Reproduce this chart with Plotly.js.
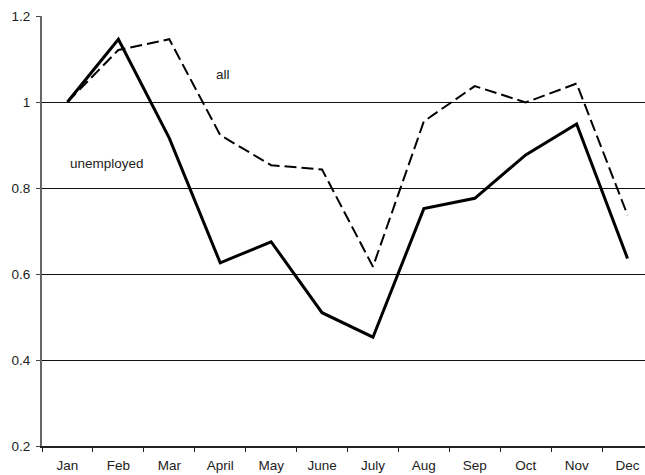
<!DOCTYPE html>
<html>
<head>
<meta charset="utf-8">
<script src="https://cdn.plot.ly/plotly-3.0.1.min.js"></script>
<style>
html,body{margin:0;padding:0;overflow:hidden;background:#fff;width:645px;height:475px;}
#chart{width:660px;height:475px;}
</style>
</head>
<body>
<div id="chart"></div>
<script>
var months = ["Jan","Feb","Mar","April","May","June","July","Aug","Sep","Oct","Nov","Dec"];
var unemployed = [1.0, 1.146, 0.916, 0.626, 0.675, 0.510, 0.453, 0.752, 0.776, 0.877, 0.949, 0.636];
var all = [1.0, 1.121, 1.146, 0.923, 0.853, 0.843, 0.617, 0.955, 1.037, 0.999, 1.043, 0.737];
var yTicks = [0.2, 0.4, 0.6, 0.8, 1.0, 1.2];
var yTickText = ["0.2", "0.4", "0.6", "0.8", "1", "1.2"];

var font = {family: "Liberation Sans, Arial, sans-serif", size: 13.5, color: "#222"};

var traces = [
  {x: months, y: all, type: "scatter", mode: "lines", name: "all",
   line: {color: "#000", width: 2, dash: "12px,5px"}},
  {x: months, y: unemployed, type: "scatter", mode: "lines", name: "unemployed",
   line: {color: "#000", width: 3}}
];

var layout = {
  width: 660, height: 475,
  margin: {l: 42, r: 7, t: 16, b: 29},
  showlegend: false,
  paper_bgcolor: "#fff", plot_bgcolor: "#fff",
  font: font,
  xaxis: {
    type: "category", range: [-0.5, 11.5],
    tickson: "boundaries", ticks: "outside", ticklen: 4, tickcolor: "#222", tickwidth: 1,
    showgrid: false, zeroline: false,
    showline: true, linecolor: "#222", linewidth: 1.5,
    ticklabelstandoff: 6, tickfont: font
  },
  yaxis: {
    range: [0.2, 1.2], tickvals: yTicks, ticktext: yTickText,
    ticks: "outside", ticklen: 4, tickcolor: "#444", tickwidth: 1,
    showgrid: true, gridcolor: "#111", gridwidth: 1,
    zeroline: false, showline: true, linecolor: "#666", linewidth: 2,
    ticklabelstandoff: 3, tickfont: font
  },
  annotations: [
    {x: 3.05, y: 1.065, xref: "x", yref: "y", text: "all", showarrow: false, font: font},
    {x: 0.77, y: 0.858, xref: "x", yref: "y", text: "unemployed", showarrow: false, font: font}
  ]
};

Plotly.newPlot("chart", traces, layout, {displayModeBar: false, staticPlot: true});
</script>
</body>
</html>
